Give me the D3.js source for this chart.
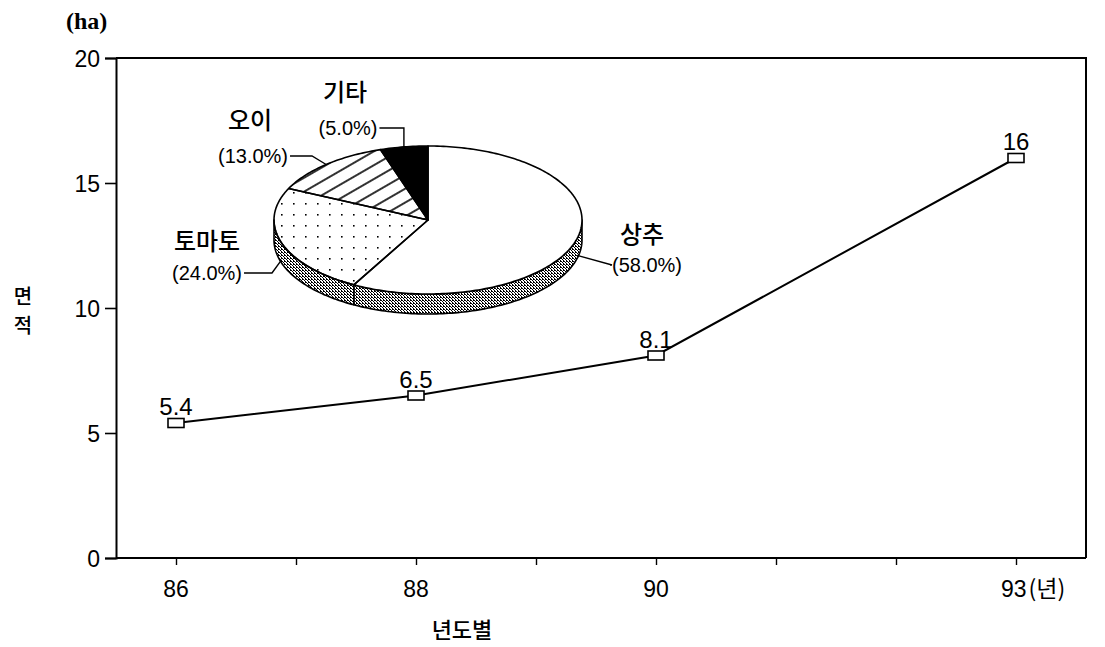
<!DOCTYPE html>
<html>
<head>
<meta charset="utf-8">
<script src="https://cdn.jsdelivr.net/npm/d3@7"></script>
<style>
  html, body { margin: 0; padding: 0; background: #fff; }
  svg { display: block; }
  .num { font-family: "Liberation Sans", Arial, sans-serif; fill: #000; }
  .kr { font-family: "Noto Sans CJK KR", sans-serif; fill: #000; }
</style>
</head>
<body>
<svg id="chart" width="1105" height="647"></svg>
<script>
// Cultivated area by year (ha)
const years = [86, 88, 90, 93];
const areas = [5.4, 6.5, 8.1, 16];
const yTicks = [0, 5, 10, 15, 20];
const xMinorTicks = [86, 87, 88, 89, 90, 91, 92, 93];
const xTickLabels = ["86", "88", "90", "93"];
const xUnit = "(년)";

// Crop share (%) shown in the inset pie
const crops = ["상추", "토마토", "오이", "기타"];
const shares = [58.0, 24.0, 13.0, 5.0];

const svg = d3.select("#chart");

const plot = { left: 116, right: 1086, top: 58, bottom: 558 };
const x = d3.scaleLinear().domain([85.5, 93.5]).range([116, 1076]);
const y = d3.scaleLinear().domain([0, 20]).range([plot.bottom, plot.top]);

// Fill patterns
const defs = svg.append("defs");
const dots = defs.append("pattern").attr("id", "dots").attr("patternUnits", "userSpaceOnUse")
  .attr("width", 12).attr("height", 11);
dots.append("rect").attr("x", 5).attr("y", 5).attr("width", 1.6).attr("height", 1.6).attr("fill", "#000");
const hatch = defs.append("pattern").attr("id", "hatch").attr("patternUnits", "userSpaceOnUse")
  .attr("width", 12).attr("height", 12).attr("patternTransform", "rotate(-30)");
hatch.append("line").attr("x1", 0).attr("x2", 12).attr("y1", 6).attr("y2", 6)
  .attr("stroke", "#000").attr("stroke-width", 1.6);
const grain = defs.append("pattern").attr("id", "grain").attr("patternUnits", "userSpaceOnUse")
  .attr("width", 3).attr("height", 3);
grain.append("rect").attr("width", 3).attr("height", 3).attr("fill", "#fff");
[[0, 0], [1, 1], [2, 2], [2, 0]].forEach(([gx, gy]) =>
  grain.append("rect").attr("x", gx).attr("y", gy).attr("width", 1).attr("height", 1).attr("fill", "#000"));

// Frame (top and right)
svg.append("path")
  .attr("d", `M${plot.left},${plot.top}H${plot.right}V${plot.bottom}`)
  .attr("fill", "none").attr("stroke", "#000").attr("stroke-width", 2);

// Y axis
const yAxis = d3.axisLeft(y).tickValues(yTicks).tickSize(11).tickPadding(5).tickFormat(d3.format("d"));
const gy = svg.append("g").attr("transform", `translate(${plot.left},0)`).call(yAxis);
gy.select(".domain").attr("stroke-width", 2);
gy.selectAll(".tick line").attr("stroke-width", 1.6);
gy.selectAll(".tick text").attr("class", "num").attr("font-size", 23).attr("dy", "0.36em");

// X axis
const xAxis = d3.axisBottom(x).tickValues(xMinorTicks).tickSize(7).tickFormat(() => "");
const gx = svg.append("g").attr("transform", `translate(0,${plot.bottom})`).call(xAxis);
gx.select(".domain").attr("d", `M${plot.left},0H${plot.right}`).attr("stroke-width", 2);
gx.selectAll(".tick line").attr("stroke-width", 1.4);

const labelG = svg.append("g");
years.forEach((yr, i) => {
  const t = labelG.append("text").attr("class", "num").attr("font-size", 23)
    .attr("x", x(yr)).attr("y", 597).attr("text-anchor", "middle").text(xTickLabels[i]);
  if (i === years.length - 1) {
    t.attr("text-anchor", "start").attr("x", x(yr) - 15);
    t.append("tspan").attr("class", "kr").attr("font-size", 23).attr("dx", 2).text(xUnit);
  }
});

// Axis titles
svg.append("text").attr("x", 66).attr("y", 29)
  .attr("font-family", "'Liberation Serif', serif").attr("font-weight", "bold")
  .attr("font-size", 24).text("(ha)");
svg.append("text").attr("class", "kr").attr("font-size", 20).attr("font-weight", 500)
  .attr("x", 23).attr("y", 304).attr("text-anchor", "middle").text("면");
svg.append("text").attr("class", "kr").attr("font-size", 20).attr("font-weight", 500)
  .attr("x", 23).attr("y", 333).attr("text-anchor", "middle").text("적");
svg.append("text").attr("class", "kr").attr("font-size", 22).attr("font-weight", 500)
  .attr("x", 462).attr("y", 638).attr("text-anchor", "middle").text("년도별");

// Line series
const pts = years.map((yr, i) => [yr, areas[i]]);
svg.append("path").datum(pts)
  .attr("d", d3.line().x(d => x(d[0])).y(d => y(d[1])))
  .attr("fill", "none").attr("stroke", "#000").attr("stroke-width", 2);
svg.selectAll(".mk").data(pts).join("rect").attr("class", "mk")
  .attr("x", d => x(d[0]) - 8).attr("y", d => y(d[1]) - 4.5)
  .attr("width", 16).attr("height", 9)
  .attr("fill", "#fff").attr("stroke", "#000").attr("stroke-width", 1.6);
svg.selectAll(".vl").data(pts).join("text").attr("class", "num vl")
  .attr("x", d => x(d[0])).attr("y", d => y(d[1]) - 8)
  .attr("text-anchor", "middle").attr("font-size", 24)
  .text(d => d[1]);

// Inset 3D pie
const pie = { cx: 428, cy: 220, rx: 154, ry: 74, depth: 20 };
const fills = ["#fff", "url(#dots)", "url(#hatch)", "#000"];
const arcs = d3.pie().sort(null).value(d => d)(shares);
const pt = (a, dy = 0) => [pie.cx + pie.rx * Math.sin(a), pie.cy - pie.ry * Math.cos(a) + dy];
function rim(a0, a1, dy = 0) {
  const n = Math.max(2, Math.ceil(Math.abs(a1 - a0) / 0.02));
  return d3.range(n + 1).map(k => pt(a0 + (a1 - a0) * k / n, dy));
}
const pieG = svg.append("g");

// Side wall (front half only)
arcs.forEach(a => {
  const s = Math.max(a.startAngle, Math.PI / 2), e = Math.min(a.endAngle, 3 * Math.PI / 2);
  if (e <= s) return;
  const poly = rim(s, e, 0).concat(rim(e, s, pie.depth));
  pieG.append("path").attr("d", "M" + poly.join("L") + "Z")
    .attr("fill", "url(#grain)").attr("stroke", "#000").attr("stroke-width", 1.6)
    .attr("stroke-linejoin", "round");
});

// Top slices
arcs.forEach((a, i) => {
  const poly = [[pie.cx, pie.cy]].concat(rim(a.startAngle, a.endAngle));
  pieG.append("path").attr("d", "M" + poly.join("L") + "Z")
    .attr("fill", fills[i]).attr("stroke", "#000").attr("stroke-width", 1.6)
    .attr("stroke-linejoin", "round");
});

// Slice labels with leader lines
const pieLabels = [
  { name: [642, 243], pct: [647, 272], elbow: [612, 266], side: true },
  { name: [207, 250], pct: [207, 280], elbow: [272, 272], side: true },
  { name: [250, 129], pct: [253, 163], elbow: [312, 157], side: false },
  { name: [345, 101], pct: [348, 135], elbow: [400, 128], side: false }
];
arcs.forEach((a, i) => {
  const L = pieLabels[i];
  const mid = (a.startAngle + a.endAngle) / 2;
  const end = pt(mid, L.side ? pie.depth * 0.85 : 0);
  const pctTxt = "(" + shares[i].toFixed(1) + "%)";
  const tx = pieG.append("text").attr("class", "num").attr("font-size", 20)
    .attr("x", L.pct[0]).attr("y", L.pct[1]).attr("text-anchor", "middle").text(pctTxt);
  const bb = tx.node().getBBox();
  const start = L.pct[0] > pie.cx ? [bb.x - 2, L.pct[1] - 7] : [bb.x + bb.width + 2, L.pct[1] - 7];
  const elbow = i === 3 ? [end[0], start[1]] : [L.elbow[0], start[1]];
  pieG.append("path").attr("d", `M${start}L${elbow}L${end}`)
    .attr("fill", "none").attr("stroke", "#000").attr("stroke-width", 1.4);
  pieG.append("text").attr("class", "kr").attr("font-size", 24).attr("font-weight", 500)
    .attr("x", L.name[0]).attr("y", L.name[1]).attr("text-anchor", "middle").text(crops[i]);
});
</script>
</body>
</html>
